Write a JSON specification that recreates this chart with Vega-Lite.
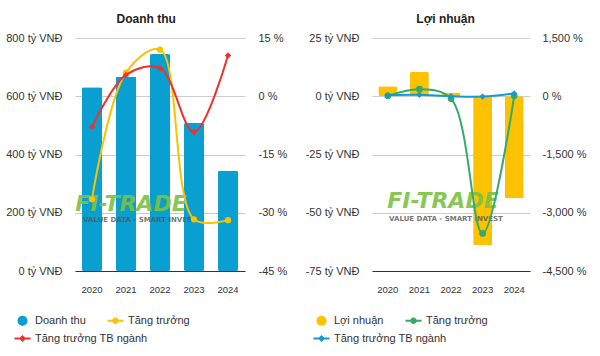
{
  "$schema": "https://vega.github.io/schema/vega-lite/v6.json",
  "background": "white",
  "padding": {"left": 5, "right": 5, "top": 13, "bottom": 5},
  "spacing": 18,
  "config": {
    "font": "Liberation Sans",
    "view": {"stroke": null},
    "axis": {"labelFont": "Liberation Sans", "labelFontSize": 11, "labelColor": "#333333", "ticks": false, "domain": false, "title": null, "labelPadding": 13},
    "title": {"font": "Liberation Sans", "fontSize": 12, "fontWeight": "bold", "color": "#222222", "frame": "bounds", "anchor": "middle", "offset": 6},
    "legend": {"title": null, "orient": "none", "direction": "horizontal", "symbolSize": 64, "symbolOpacity": 1, "symbolStrokeWidth": 0, "labelFont": "Liberation Sans", "labelFontSize": 11, "labelColor": "#333333", "labelOffset": 7, "columnPadding": 21, "rowPadding": 6, "padding": 0}
  },
  "datasets": {
    "revenue": [
      {"year": "2020", "value": 631},
      {"year": "2021", "value": 668},
      {"year": "2022", "value": 745},
      {"year": "2023", "value": 508},
      {"year": "2024", "value": 344}
    ],
    "revenueGrowth": [
      {"year": "2020", "series": "Tăng trưởng", "value": -26.5},
      {"year": "2021", "series": "Tăng trưởng", "value": 6.1},
      {"year": "2022", "series": "Tăng trưởng", "value": 12.0},
      {"year": "2023", "series": "Tăng trưởng", "value": -31.7},
      {"year": "2024", "series": "Tăng trưởng", "value": -31.9},
      {"year": "2020", "series": "Tăng trưởng TB ngành", "value": -7.9},
      {"year": "2021", "series": "Tăng trưởng TB ngành", "value": 5.5},
      {"year": "2022", "series": "Tăng trưởng TB ngành", "value": 7.2},
      {"year": "2023", "series": "Tăng trưởng TB ngành", "value": -9.2},
      {"year": "2024", "series": "Tăng trưởng TB ngành", "value": 10.5}
    ],
    "profit": [
      {"year": "2020", "value": 4.3},
      {"year": "2021", "value": 10.5},
      {"year": "2022", "value": 1.5},
      {"year": "2023", "value": -63.9},
      {"year": "2024", "value": -43.8}
    ],
    "profitGrowth": [
      {"year": "2020", "series": "Tăng trưởng", "value": 10},
      {"year": "2021", "series": "Tăng trưởng", "value": 181},
      {"year": "2022", "series": "Tăng trưởng", "value": -60},
      {"year": "2023", "series": "Tăng trưởng", "value": -3533},
      {"year": "2024", "series": "Tăng trưởng", "value": 10},
      {"year": "2020", "series": "Tăng trưởng TB ngành", "value": 26},
      {"year": "2021", "series": "Tăng trưởng TB ngành", "value": 36},
      {"year": "2022", "series": "Tăng trưởng TB ngành", "value": 0},
      {"year": "2023", "series": "Tăng trưởng TB ngành", "value": -8},
      {"year": "2024", "series": "Tăng trưởng TB ngành", "value": 70}
    ]
  },
  "hconcat": [
    {
      "title": "Doanh thu",
      "width": 170,
      "height": 233,
      "layer": [
        {
          "data": {"name": "revenue"},
          "layer": [
            {
              "mark": {"type": "bar", "color": "#0a9fd1", "cornerRadius": 2},
              "encoding": {
                "x": {"field": "year", "type": "ordinal", "scale": {"paddingInner": 0.4, "paddingOuter": 0.2}, "axis": {"labelAngle": 0, "labelFontSize": 9.5, "labelPadding": 13, "domain": true, "domainColor": "#333333", "domainWidth": 1}},
                "y": {"field": "value", "type": "quantitative", "scale": {"domain": [0, 800], "nice": false}, "axis": {"values": [0, 200, 400, 600, 800], "labelExpr": "datum.value + ' tỷ VNĐ'", "grid": true, "gridColor": "#cccccc"}}
              }
            },
            {
              "data": {"values": [{"label": "FI-TRADE"}]},
              "mark": {"type": "text", "font": "DejaVu Sans", "fontSize": 22, "fontWeight": "bold", "fontStyle": "italic", "color": "#7cc242", "opacity": 0.9, "baseline": "middle", "dx": 5},
              "encoding": {"x": {"datum": "2021", "type": "ordinal"}, "y": {"datum": 230, "type": "quantitative"}, "text": {"field": "label"}}
            },
            {
              "data": {"values": [{"label": "VALUE DATA - SMART INVEST"}]},
              "mark": {"type": "text", "font": "DejaVu Sans", "fontSize": 7, "fontWeight": "bold", "color": "#555555", "opacity": 0.8, "baseline": "middle", "dx": 14},
              "encoding": {"x": {"datum": "2021", "type": "ordinal"}, "y": {"datum": 175, "type": "quantitative"}, "text": {"field": "label"}}
            }
          ]
        },
        {
          "data": {"name": "revenueGrowth"},
          "encoding": {
            "x": {"field": "year", "type": "ordinal"},
            "y": {"field": "value", "type": "quantitative", "scale": {"domain": [-45, 15], "nice": false}, "axis": {"orient": "right", "values": [-45, -30, -15, 0, 15], "labelExpr": "datum.value + ' %'", "grid": false}}
          },
          "layer": [
            {
              "transform": [{"filter": "datum.series === 'Tăng trưởng'"}],
              "mark": {"type": "line", "color": "#fcc200", "strokeWidth": 2, "interpolate": "catmull-rom", "point": {"filled": true, "shape": "circle", "size": 40, "color": "#fcc200"}}
            },
            {
              "transform": [{"filter": "datum.series === 'Tăng trưởng TB ngành'"}],
              "mark": {"type": "line", "color": "#f0312b", "strokeWidth": 2, "interpolate": "catmull-rom", "point": {"filled": true, "shape": "diamond", "size": 40, "color": "#f0312b"}}
            }
          ]
        },
        {
          "data": {"values": [{"series": "Doanh thu"}, {"series": "Tăng trưởng"}]},
          "mark": {"type": "point", "filled": true, "opacity": 0},
          "encoding": {
            "color": {"field": "series", "type": "nominal", "scale": {"domain": ["Doanh thu", "Tăng trưởng"], "range": ["#0a9fd1", "#fcc200"]}, "legend": {"legendX": -58, "legendY": 277}},
            "shape": {"field": "series", "type": "nominal", "scale": {"domain": ["Doanh thu", "Tăng trưởng"], "range": ["M-1.25,0A1.25,1.25 0 1,1 1.25,0A1.25,1.25 0 1,1 -1.25,0Z", "M-2,-0.25H2V0.25H-2Z M-0.8,0A0.8,0.8 0 1,1 0.8,0A0.8,0.8 0 1,1 -0.8,0Z"]}, "legend": {"legendX": -58, "legendY": 277}}
          }
        },
        {
          "data": {"values": [{"series": "Tăng trưởng TB ngành"}]},
          "mark": {"type": "point", "filled": true, "opacity": 0},
          "encoding": {
            "fill": {"field": "series", "type": "nominal", "scale": {"domain": ["Tăng trưởng TB ngành"], "range": ["#f0312b"]}, "legend": {"legendX": -58, "legendY": 295, "symbolType": "M-2,-0.25H2V0.25H-2Z M0,-0.9L0.9,0L0,0.9L-0.9,0Z"}}
          }
        }
      ],
      "resolve": {"scale": {"y": "independent"}}
    },
    {
      "title": "Lợi nhuận",
      "width": 158,
      "height": 233,
      "layer": [
        {
          "data": {"name": "profit"},
          "layer": [
            {
              "mark": {"type": "bar", "color": "#fcc200", "cornerRadius": 2},
              "encoding": {
                "x": {"field": "year", "type": "ordinal", "scale": {"paddingInner": 0.4, "paddingOuter": 0.2}, "axis": {"labelAngle": 0, "labelFontSize": 9.5, "labelPadding": 13, "domain": true, "domainColor": "#333333", "domainWidth": 1}},
                "y": {"field": "value", "type": "quantitative", "scale": {"domain": [-75, 25], "nice": false}, "axis": {"values": [-75, -50, -25, 0, 25], "labelExpr": "datum.value + ' tỷ VNĐ'", "grid": true, "gridColor": "#cccccc"}}
              }
            },
            {
              "data": {"values": [{"label": "FI-TRADE"}]},
              "mark": {"type": "text", "font": "DejaVu Sans", "fontSize": 22, "fontWeight": "bold", "fontStyle": "italic", "color": "#7cc242", "opacity": 0.9, "baseline": "middle", "dx": -8},
              "encoding": {"x": {"datum": "2022", "type": "ordinal"}, "y": {"datum": -45, "type": "quantitative"}, "text": {"field": "label"}}
            },
            {
              "data": {"values": [{"label": "VALUE DATA - SMART INVEST"}]},
              "mark": {"type": "text", "font": "DejaVu Sans", "fontSize": 7, "fontWeight": "bold", "color": "#555555", "opacity": 0.8, "baseline": "middle", "dx": -5},
              "encoding": {"x": {"datum": "2022", "type": "ordinal"}, "y": {"datum": -52.5, "type": "quantitative"}, "text": {"field": "label"}}
            }
          ]
        },
        {
          "data": {"name": "profitGrowth"},
          "encoding": {
            "x": {"field": "year", "type": "ordinal"},
            "y": {"field": "value", "type": "quantitative", "scale": {"domain": [-4500, 1500], "nice": false}, "axis": {"orient": "right", "values": [-4500, -3000, -1500, 0, 1500], "labelPadding": 12, "labelExpr": "(datum.value < 0 ? '-' + format(-datum.value, ',') : format(datum.value, ',')) + ' %'", "grid": false}}
          },
          "layer": [
            {
              "transform": [{"filter": "datum.series === 'Tăng trưởng'"}],
              "mark": {"type": "line", "color": "#35a96a", "strokeWidth": 2, "interpolate": "catmull-rom", "point": {"filled": true, "shape": "circle", "size": 45, "color": "#35a96a"}}
            },
            {
              "transform": [{"filter": "datum.series === 'Tăng trưởng TB ngành'"}],
              "mark": {"type": "line", "color": "#139bd0", "strokeWidth": 2, "interpolate": "catmull-rom", "point": {"filled": true, "shape": "diamond", "size": 40, "color": "#139bd0"}}
            }
          ]
        },
        {
          "data": {"values": [{"series": "Lợi nhuận"}, {"series": "Tăng trưởng"}]},
          "mark": {"type": "point", "filled": true, "opacity": 0},
          "encoding": {
            "color": {"field": "series", "type": "nominal", "scale": {"domain": ["Lợi nhuận", "Tăng trưởng"], "range": ["#fcc200", "#35a96a"]}, "legend": {"legendX": -56, "legendY": 277}},
            "shape": {"field": "series", "type": "nominal", "scale": {"domain": ["Lợi nhuận", "Tăng trưởng"], "range": ["M-1.25,0A1.25,1.25 0 1,1 1.25,0A1.25,1.25 0 1,1 -1.25,0Z", "M-2,-0.25H2V0.25H-2Z M-0.8,0A0.8,0.8 0 1,1 0.8,0A0.8,0.8 0 1,1 -0.8,0Z"]}, "legend": {"legendX": -56, "legendY": 277}}
          }
        },
        {
          "data": {"values": [{"series": "Tăng trưởng TB ngành"}]},
          "mark": {"type": "point", "filled": true, "opacity": 0},
          "encoding": {
            "fill": {"field": "series", "type": "nominal", "scale": {"domain": ["Tăng trưởng TB ngành"], "range": ["#139bd0"]}, "legend": {"legendX": -56, "legendY": 295, "symbolType": "M-2,-0.25H2V0.25H-2Z M0,-0.9L0.9,0L0,0.9L-0.9,0Z"}}
          }
        }
      ],
      "resolve": {"scale": {"y": "independent"}}
    }
  ],
  "resolve": {"scale": {"x": "independent", "y": "independent", "color": "independent", "shape": "independent", "fill": "independent"}, "legend": {"color": "independent", "shape": "independent", "fill": "independent"}}
}
